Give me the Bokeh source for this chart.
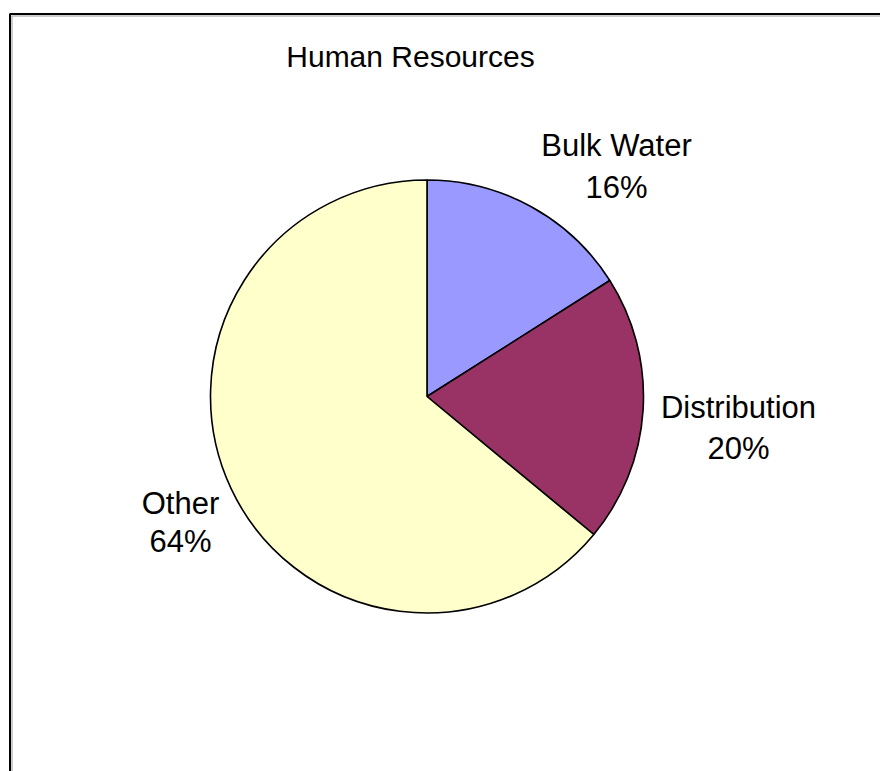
import math
from bokeh.plotting import figure
from bokeh.models import Range1d, ColumnDataSource
from bokeh.core.properties import value
from bokeh.embed import file_html
from bokeh.resources import INLINE

# ---- data ----
title_text = "Human Resources"
categories = ["Bulk Water", "Distribution", "Other"]
shares = [16, 20, 64]
colors = ["#9999FF", "#993366", "#FFFFCC"]

W, H = 880, 771
FONT = "Liberation Sans"
FS_TITLE = "30px"
FS = "31px"

def Y(py):
    return H - py

p = figure(width=W, height=H, output_backend="svg", toolbar_location=None,
           x_range=Range1d(0, W), y_range=Range1d(0, H),
           min_border=0, min_border_left=0, min_border_right=0,
           min_border_top=0, min_border_bottom=0)
p.axis.visible = False
p.grid.visible = False
p.outline_line_color = None
p.background_fill_color = "white"
p.border_fill_color = "white"

# chart area border (top and left edges visible)
p.line(x=[11.5, 11.5, W], y=[0, Y(15.5), Y(15.5)], line_color="#bbbbbb", line_width=1.5)
p.line(x=[9.5, 9.5, W], y=[0, Y(13.5), Y(13.5)], line_color="black", line_width=2)

# pie
cx, cy, r = 426.5, Y(396), 216.5
total = float(sum(shares))
starts, ends = [], []
a = 90.0
for v in shares:
    starts.append(math.radians(a))
    a -= v / total * 360.0
    ends.append(math.radians(a))
src = ColumnDataSource(dict(cat=categories, val=shares, start=starts, end=ends, color=colors))
p.wedge(x=cx, y=cy, radius=r, start_angle="start", end_angle="end", direction="clock",
        fill_color="color", line_color="black", line_width=1.6, source=src)

# title
p.text(x=[410], y=[Y(56)], text=[title_text], text_font=value(FONT), text_font_size=FS_TITLE,
       text_align="center", text_baseline="alphabetic", text_color="black")

# labels (layout positions)
label_x = [616, 738, 180]
name_base = [145, 407, 503]
pct_base = [187, 448, 541]
pct_text = [f"{round(v / total * 100)}%" for v in shares]
p.text(x=label_x, y=[Y(b) for b in name_base], text=categories, text_font=value(FONT),
       text_font_size=FS, text_align="center", text_baseline="alphabetic", text_color="black")
p.text(x=label_x, y=[Y(b) for b in pct_base], text=pct_text, text_font=value(FONT),
       text_font_size=FS, text_align="center", text_baseline="alphabetic", text_color="black")

open("out.html", "w").write(file_html(p, INLINE))
